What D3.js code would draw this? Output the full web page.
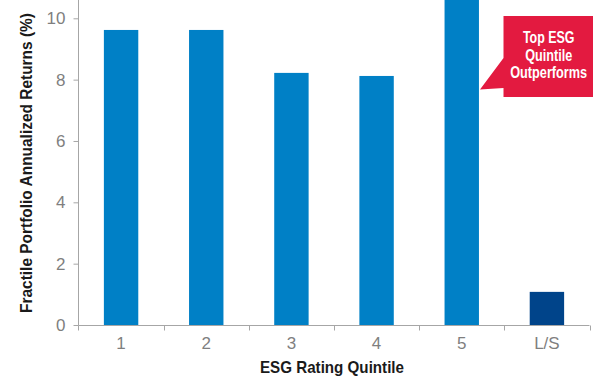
<!DOCTYPE html>
<html><head><meta charset="utf-8">
<script src="https://cdn.jsdelivr.net/npm/d3@7"></script>
<style>
body{margin:0;background:#fff;}
svg{display:block;}
text{font-family:"Liberation Sans",Arial,sans-serif;}
</style></head>
<body><svg id="c" width="593" height="379"></svg>
<script>
const categories = ["1","2","3","4","5","L/S"];
const returns = [9.62, 9.62, 8.22, 8.12, 11.2, 1.08];
const yTicks = [0,2,4,6,8,10];
const yTitle = "Fractile Portfolio Annualized Returns (%)";
const xTitle = "ESG Rating Quintile";
const calloutLines = ["Top ESG","Quintile","Outperforms"];
const calloutWidths = [51.5, 47, 77];

const svg = d3.select("#c");
const x0 = 78.5, x1 = 589.5;
const x = d3.scaleBand().domain(categories).range([x0,x1]).paddingInner(0.596).paddingOuter(0.298);
const y = d3.scaleLinear().domain([0,10]).range([325,18.3]);

svg.append("g").selectAll("rect.bar").data(categories).join("rect")
  .attr("class","bar")
  .attr("x",d=>x(d)).attr("width",x.bandwidth())
  .attr("y",(d,i)=>y(returns[i])).attr("height",(d,i)=>y(0)-y(returns[i]))
  .attr("fill",d=>d==="L/S"?"#00448a":"#0080c6");

// y axis
const yAxis = d3.axisLeft(y).tickValues(yTicks).tickSize(5).tickPadding(8).tickFormat(d3.format("d"));
const ya = svg.append("g").attr("transform",`translate(${x0},0)`).call(yAxis);
ya.select(".domain").attr("d","M0,0V325.5").attr("stroke","#a6a6a6");
ya.selectAll(".tick line").attr("stroke","#a6a6a6");
ya.selectAll(".tick text").attr("fill","#7f7f7f").attr("font-size",17).attr("font-family",null);

// x axis
const xa = svg.append("g").attr("transform","translate(0,325.5)");
xa.append("line").attr("x1",x0).attr("x2",x1).attr("stroke","#a6a6a6");
const bounds = categories.map(c=>x(c)-x.step()*x.paddingInner()/2);
bounds.push(x1);
xa.selectAll("line.t").data(bounds).join("line").attr("class","t")
  .attr("x1",d=>Math.round(d)+0.5).attr("x2",d=>Math.round(d)+0.5).attr("y1",0).attr("y2",5).attr("stroke","#a6a6a6");
xa.selectAll("text").data(categories).join("text")
  .attr("x",d=>x(d)+x.bandwidth()/2).attr("y",23).attr("text-anchor","middle")
  .attr("fill","#7f7f7f").attr("font-size",17).text(d=>d);

svg.append("text").attr("x",332).attr("y",372.5).attr("text-anchor","middle")
  .attr("font-size",17).attr("font-weight","bold").attr("fill","#1a1a1a")
  .attr("textLength",144).attr("lengthAdjust","spacingAndGlyphs").text(xTitle);
svg.append("text").attr("transform","translate(32,163) rotate(-90)").attr("text-anchor","middle")
  .attr("font-size",17).attr("font-weight","bold").attr("fill","#1a1a1a")
  .attr("textLength",300).attr("lengthAdjust","spacingAndGlyphs").text(yTitle);

// callout
const cx0 = 503.5, cy0 = 16, cx1 = 593, cy1 = 97;
svg.append("path").attr("d",`M${cx0},${cy0}H${cx1}V${cy1}H${cx0}V88L480,89.5L${cx0},58Z`).attr("fill","#e31a40");
svg.append("g").selectAll("text").data(calloutLines).join("text")
  .attr("x",548.7).attr("y",(d,i)=>43.3+i*17.2).attr("text-anchor","middle").attr("fill","#fff")
  .attr("font-size",16).attr("font-weight","bold")
  .attr("textLength",(d,i)=>calloutWidths[i]).attr("lengthAdjust","spacingAndGlyphs").text(d=>d);
</script></body></html>
